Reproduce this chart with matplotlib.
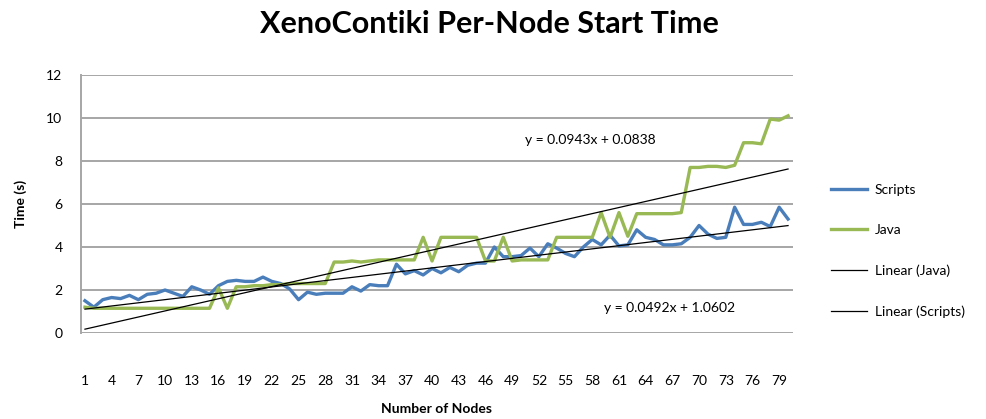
import numpy as np
import matplotlib
matplotlib.use("Agg")
import matplotlib.pyplot as plt

plt.rcParams['font.family'] = ['Lato', 'DejaVu Sans']

# Per-node start time (s), nodes 1..80
nodes = np.arange(1, 81)
scripts = [1.50, 1.20, 1.55, 1.65, 1.60, 1.75, 1.55, 1.80, 1.85, 2.00,
           1.85, 1.70, 2.15, 2.00, 1.80, 2.20, 2.40, 2.45, 2.40, 2.40,
           2.60, 2.40, 2.30, 2.05, 1.55, 1.90, 1.80, 1.85, 1.85, 1.85,
           2.15, 1.95, 2.25, 2.20, 2.20, 3.20, 2.75, 2.90, 2.70, 3.00,
           2.80, 3.05, 2.85, 3.15, 3.25, 3.25, 4.00, 3.55, 3.55, 3.60,
           3.95, 3.55, 4.15, 3.95, 3.70, 3.55, 4.00, 4.35, 4.10, 4.55,
           4.05, 4.10, 4.80, 4.45, 4.35, 4.10, 4.10, 4.15, 4.45, 5.00,
           4.60, 4.40, 4.45, 5.85, 5.05, 5.05, 5.15, 4.95, 5.85, 5.30]
java = [1.20, 1.15, 1.15, 1.15, 1.15, 1.15, 1.15, 1.15, 1.15, 1.15,
        1.15, 1.15, 1.15, 1.15, 1.15, 2.10, 1.15, 2.15, 2.15, 2.20,
        2.20, 2.25, 2.25, 2.30, 2.30, 2.30, 2.30, 2.30, 3.30, 3.30,
        3.35, 3.30, 3.35, 3.40, 3.40, 3.40, 3.40, 3.40, 4.45, 3.35,
        4.45, 4.45, 4.45, 4.45, 4.45, 3.35, 3.35, 4.45, 3.35, 3.40,
        3.40, 3.40, 3.40, 4.45, 4.45, 4.45, 4.45, 4.45, 5.60, 4.45,
        5.60, 4.50, 5.55, 5.55, 5.55, 5.55, 5.55, 5.60, 7.70, 7.70,
        7.75, 7.75, 7.70, 7.80, 8.85, 8.85, 8.80, 9.95, 9.90, 10.10]

# Excel trendline coefficients (slope, intercept)
java_fit = (0.0943, 0.0838)
scripts_fit = (0.0492, 1.0602)

xtick_labels = list(range(1, 80, 3))

blue = '#4a7ebb'
green = '#98b954'

fig = plt.figure(figsize=(9.86, 4.19), dpi=100)
ax = fig.add_axes([80.5 / 986, 1 - 333 / 419, (792.5 - 80.5) / 986, (333 - 75) / 419])

l_scripts, = ax.plot(nodes, scripts, color=blue, lw=2.4, label='Scripts', solid_joinstyle='round')
l_java, = ax.plot(nodes, java, color=green, lw=2.4, label='Java', solid_joinstyle='round')
l_lj, = ax.plot(nodes, java_fit[0] * nodes + java_fit[1], color='black', lw=0.9, label='Linear (Java)')
l_ls, = ax.plot(nodes, scripts_fit[0] * nodes + scripts_fit[1], color='black', lw=0.9, label='Linear (Scripts)')

ax.set_xlim(0.5, 80.5)
ax.set_ylim(0, 12)
ax.set_yticks(range(0, 13, 2))
ax.set_xticks(xtick_labels)
ax.grid(axis='y', color='#a6a6a6', lw=1.4)
ax.set_axisbelow(True)
for s in ['top', 'right', 'bottom']:
    ax.spines[s].set_visible(False)
ax.spines['left'].set_color('#a6a6a6')
ax.spines['left'].set_linewidth(1.4)
ax.tick_params(axis='y', length=0, pad=13, labelsize=10)
ax.tick_params(axis='x', length=0, pad=30, labelsize=10)

ax.set_xlabel('Number of Nodes', fontweight='bold', fontsize=10, labelpad=12)
ax.set_ylabel('Time (s)', fontweight='bold', fontsize=10, labelpad=14)
fig.suptitle('XenoContiki Per-Node Start Time', fontweight='bold', fontsize=22, x=0.496, y=0.975)

ax.text(590 / 986, 1 - 140 / 419, 'y = 0.0943x + 0.0838', transform=fig.transFigure,
        ha='center', va='center', fontsize=10)
ax.text(670 / 986, 1 - 308 / 419, 'y = 0.0492x + 1.0602', transform=fig.transFigure,
        ha='center', va='center', fontsize=10)

fig.legend(handles=[l_scripts, l_java, l_lj, l_ls], loc='center left',
           bbox_to_anchor=(818 / 986, 1 - 251 / 419), frameon=False, fontsize=10,
           handlelength=2.6, labelspacing=2.05, handletextpad=0.6)

fig.savefig('out.png', dpi=100)
